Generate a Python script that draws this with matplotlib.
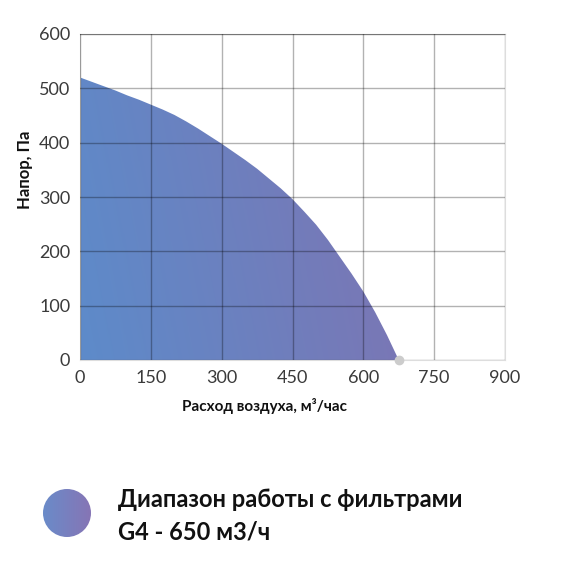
import matplotlib
matplotlib.use('Agg')
import matplotlib.pyplot as plt
import numpy as np
from matplotlib.colors import LinearSegmentedColormap
from matplotlib.patches import Polygon, Circle

# расходно-напорная характеристика
flow = [0, 25, 50, 75, 100, 125, 150, 175, 200, 225, 250, 275, 300, 325, 350,
        375, 400, 425, 450, 475, 500, 525, 550, 575, 600, 625, 650, 675]
pressure = [520, 512, 504, 496, 487, 479, 470, 461, 451, 439, 426, 412, 398, 383, 368,
            352, 334, 316, 296, 273, 249, 221, 190, 159, 126, 88, 46, 0]

xticks = [0, 150, 300, 450, 600, 750, 900]
yticks = [0, 100, 200, 300, 400, 500, 600]

legend_line1 = 'Диапазон работы с фильтрами'
legend_line2 = 'G4 - 650 м3/ч'

plt.rcParams['font.family'] = ['Lato', 'DejaVu Sans']

fig = plt.figure(figsize=(5.8, 5.69), dpi=100)
ax = fig.add_axes([80/580, 1 - 360/569, 425/580, 326/569])

cmap = LinearSegmentedColormap.from_list('fill', ['#5d8bca', '#7e74b2'])
gx, gy = np.meshgrid(np.linspace(0, 1, 300), np.linspace(0, 1, 300))
grad = gx * 0.85 + gy * 0.15
img = ax.imshow(grad, cmap=cmap, extent=[0, flow[-1], 0, pressure[0]],
                origin='lower', aspect='auto', zorder=1, vmin=0, vmax=1)
poly = Polygon(list(zip(flow, pressure)) + [(0, 0)], closed=True,
               facecolor='none', edgecolor='none')
ax.add_patch(poly)
img.set_clip_path(poly)

ax.plot([flow[-1]], [0], 'o', color='#cccccc', markersize=6, zorder=5, clip_on=False)

ax.set_xlim(0, 900)
ax.set_ylim(0, 600)
ax.set_xticks(xticks)
ax.set_yticks(yticks)
ax.grid(True, color='black', alpha=0.3, linewidth=1)
ax.set_axisbelow(False)
ax.tick_params(length=0, labelsize=13, labelcolor='#3a3a3a', pad=7)
for s in ['left', 'bottom', 'right']:
    ax.spines[s].set_color('#dddddd')
ax.spines['top'].set_color('#aaaaaa')

fig.text(25/580, 1 - 170/569, 'Напор, Па', rotation=90, ha='center', va='center',
         fontsize=12, fontweight='bold', color='#111111')
fig.text(265/580, 1 - 406/569, 'Расход воздуха, м³/час', ha='center', va='center',
         fontsize=11, fontweight='bold', color='#111111')

# легенда
lax = fig.add_axes([0, 0, 1, 1], zorder=-1)
lax.set_xlim(0, 580)
lax.set_ylim(569, 0)
lax.axis('off')
lcmap = LinearSegmentedColormap.from_list('leg', ['#6a8bc9', '#8675b5'])
lg = lax.imshow(np.tile(np.linspace(0, 1, 100), (100, 1)), cmap=lcmap,
                extent=[43, 91, 537, 489], aspect='auto')
circ = Circle((67, 513), 24, facecolor='none', edgecolor='none')
lax.add_patch(circ)
lg.set_clip_path(circ)

fig.text(118/580, 1 - 507/569, legend_line1, ha='left', va='baseline',
         fontsize=17, fontweight='bold', color='#111111')
fig.text(118/580, 1 - 540/569, legend_line2, ha='left', va='baseline',
         fontsize=17, fontweight='bold', color='#111111')

fig.savefig('out.png', dpi=100)
